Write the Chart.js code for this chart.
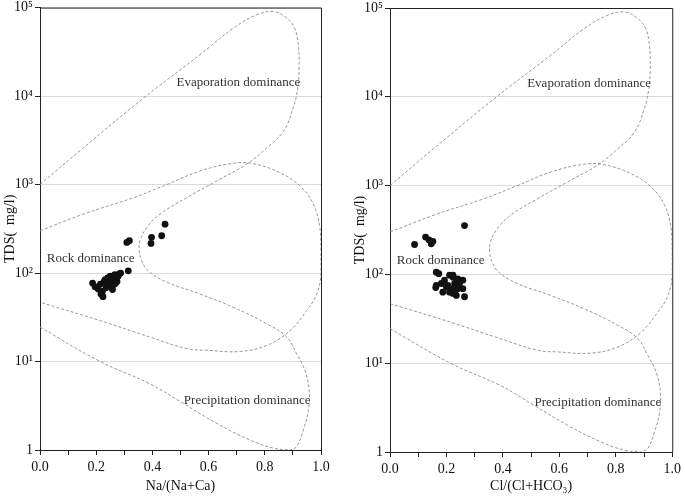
<!DOCTYPE html>
<html lang="en">
<head>
<meta charset="UTF-8">
<title>Gibbs diagrams</title>
<script src="https://cdn.jsdelivr.net/npm/chart.js"></script>
<style>
  body { margin: 0; background: #fff; }
  #wrap { position: relative; width: 685px; height: 499px; }
  .panel { position: absolute; top: 0; }
</style>
</head>
<body>
<div id="wrap">
  <canvas id="left" class="panel" width="335" height="499" style="left:0"></canvas>
  <canvas id="right" class="panel" width="335" height="499" style="left:350px"></canvas>
</div>

<script>
// Gibbs boundary curves [ratio, TDS]
const curveOuter = [
  [0, 1000], [0.154, 2600], [0.367, 9400], [0.569, 29300], [0.688, 58600], [0.771, 82800],
  [0.833, 90000], [0.878, 76000], [0.906, 58600], [0.919, 38000], [0.922, 20700], [0.917, 12300],
  [0.901, 7350], [0.866, 4000], [0.807, 2600], [0.735, 1700], [0.629, 1100], [0.522, 710],
  [0.427, 463], [0.38, 327], [0.356, 232], [0.353, 179], [0.362, 138], [0.385, 106],
  [0.451, 79], [0.569, 58], [0.688, 41], [0.807, 26.7], [0.878, 18.9], [0.913, 12.3],
  [0.943, 7.9], [0.958, 4.7], [0.955, 2.8], [0.937, 1.68], [0.913, 1.09], [0.89, 1.0]
];
const curveInner = [
  [0, 300], [0.154, 463], [0.332, 710], [0.451, 1000], [0.569, 1420], [0.688, 1740],
  [0.759, 1720], [0.854, 1360], [0.925, 964], [0.973, 600], [0.996, 327], [1.0, 178],
  [1.0, 98], [0.985, 58], [0.949, 37.7], [0.89, 22.4], [0.807, 15.2], [0.712, 13],
  [0.593, 13.4], [0.522, 14], [0.391, 18.9], [0.214, 29], [0, 46.8]
];
const curveLower = [
  [0, 24.5], [0.214, 10], [0.391, 5.6], [0.51, 3.36], [0.629, 2.0], [0.747, 1.3],
  [0.83, 1.05], [0.89, 1.0]
];

// samples: Na/(Na+Ca) vs TDS
const naRatio = [0.187, 0.196, 0.207, 0.215, 0.217, 0.224, 0.222, 0.228, 0.232, 0.238, 0.241,
  0.246, 0.25, 0.253, 0.256, 0.26, 0.263, 0.266, 0.27, 0.274, 0.278, 0.282, 0.268, 0.258, 0.235,
  0.287, 0.314, 0.309, 0.318, 0.397, 0.395, 0.433, 0.445];
const naTds = [77, 70, 66, 75, 58, 54, 62, 80, 84, 72, 88,
  78, 92, 70, 83, 90, 74, 96, 86, 80, 92, 98, 76, 65, 68,
  100, 106, 222, 232, 253, 216, 264, 357];

// samples: Cl/(Cl+HCO3) vs TDS
const clRatio = [0.164, 0.173, 0.211, 0.223, 0.24, 0.258, 0.164, 0.182, 0.193, 0.205, 0.211,
  0.223, 0.235, 0.24, 0.229, 0.246, 0.264, 0.217, 0.229, 0.2, 0.187, 0.162, 0.258, 0.223,
  0.087, 0.126, 0.138, 0.146, 0.152, 0.264];
const clTds = [106, 102, 98, 93, 89, 69, 75, 79, 86, 75, 63,
  61, 58, 69, 79, 79, 56, 69, 66, 72, 63, 71, 86, 98,
  217, 263, 245, 221, 235, 355];

const yTicks = [1, 10, 100, 1000, 10000, 100000];
const xTicks = [0, 0.1, 0.2, 0.3, 0.4, 0.5, 0.6, 0.7, 0.8, 0.9, 1.0];

const labelText = ['Evaporation dominance', 'Rock dominance', 'Precipitation dominance'];
const labelX = [0.486, 0.024, 0.512];
const labelY = [14100, 144, 3.6];

const SUP = { '1': '\u00B9', '2': '\u00B2', '3': '\u00B3', '4': '\u2074', '5': '\u2075' };
const FONT = '"Liberation Serif", "Times New Roman", serif';

const toXY = arr => arr.map(p => ({ x: p[0], y: p[1] }));
const zip = (xs, ys) => xs.map((x, i) => ({ x, y: ys[i] }));

// frame on top and right + region labels
const decor = {
  id: 'decor',
  afterDatasetsDraw(chart) {
    const { ctx, chartArea: a, scales } = chart;
    ctx.save();
    ctx.fillStyle = '#333';
    ctx.font = '13px ' + FONT;
    ctx.textAlign = 'left';
    ctx.textBaseline = 'middle';
    labelText.forEach((t, i) => {
      ctx.fillText(t, scales.x.getPixelForValue(labelX[i]), scales.y.getPixelForValue(labelY[i]));
    });
    ctx.strokeStyle = '#222';
    ctx.lineWidth = 1;
    ctx.beginPath();
    ctx.moveTo(a.left, a.top + 0.5);
    ctx.lineTo(a.right + 0.5, a.top + 0.5);
    ctx.lineTo(a.right + 0.5, a.bottom);
    ctx.stroke();
    ctx.restore();
  }
};

function curveSet(arr) {
  return {
    type: 'scatter', data: toXY(arr), showLine: true, tension: 0.4,
    borderColor: '#8c8c8c', borderWidth: 0.9, borderDash: [3, 2],
    pointRadius: 0, fill: false
  };
}

function makeChart(id, pts, xTitle, padTop, padRight, xH) {
  return new Chart(document.getElementById(id), {
    type: 'scatter',
    data: {
      datasets: [
        curveSet(curveOuter), curveSet(curveInner), curveSet(curveLower),
        { data: pts, pointRadius: 3.4, backgroundColor: '#111', borderWidth: 0 }
      ]
    },
    options: {
      responsive: false,
      animation: false,
      layout: { padding: { top: padTop, right: padRight, left: 0, bottom: 0 } },
      plugins: { legend: { display: false }, tooltip: { enabled: false } },
      scales: {
        x: {
          type: 'linear', min: 0, max: 1,
          afterBuildTicks: s => { s.ticks = xTicks.map(v => ({ value: v })); },
          afterFit: s => { s.height = xH; },
          ticks: {
            autoSkip: false, maxRotation: 0, padding: 4, color: '#111',
            font: { family: FONT, size: 14 },
            callback: v => (Math.round(v * 10) % 2 === 0 ? v.toFixed(1) : '')
          },
          grid: { drawOnChartArea: false, tickLength: 5, tickColor: '#222' },
          border: { color: '#222', width: 1 },
          title: { display: true, text: xTitle, color: '#111', font: { family: FONT, size: 14 }, padding: { top: 2, bottom: 4 } }
        },
        y: {
          type: 'logarithmic', min: 1, max: 100000,
          afterBuildTicks: s => { s.ticks = yTicks.map(v => ({ value: v })); },
          afterFit: s => { s.width = 40; },
          ticks: {
            padding: 2, color: '#111',
            font: { family: FONT, size: 14, lineHeight: 0.8 },
            callback: v => {
              const e = Math.round(Math.log10(v));
              return e === 0 ? '1' : '10' + SUP[e];
            }
          },
          grid: { color: '#dadada', lineWidth: 1, tickLength: 5, tickColor: '#222' },
          border: { color: '#222', width: 1 },
          title: { display: true, text: 'TDS(  mg/l)', color: '#111', font: { family: FONT, size: 14 }, padding: { top: 2, bottom: 0 } }
        }
      }
    },
    plugins: [decor]
  });
}

makeChart('left', zip(naRatio, naTds), 'Na/(Na+Ca)', 6, 14, 49);
makeChart('right', zip(clRatio, clTds), 'Cl/(Cl+HCO\u2083)', 8, 12, 47);
</script>
</body>
</html>
